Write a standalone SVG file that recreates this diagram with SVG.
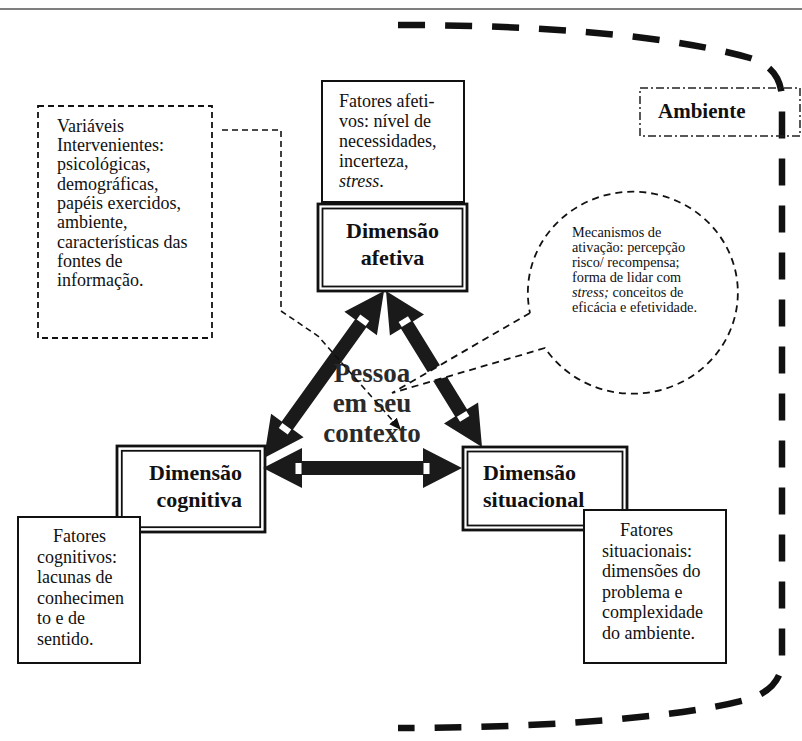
<svg xmlns="http://www.w3.org/2000/svg" width="802" height="741" viewBox="0 0 802 741">
<style>
text{font-family:"Liberation Serif","Times New Roman",serif;fill:#111}
.body{font-size:18px}
.bubble{font-size:14.3px}
.dim{font-size:22px;font-weight:bold}
.box{fill:#fff;stroke:#111;stroke-width:2}
.outer{fill:#fff;stroke:#111;stroke-width:2.8}
.inner{fill:none;stroke:#111;stroke-width:1.8}
.arrow{fill:#1a1a1a}
.notch{fill:#fff}
</style>
<defs>
<marker id="tri" markerUnits="userSpaceOnUse" markerWidth="13" markerHeight="11" refX="12" refY="5" orient="auto">
<path d="M0,0 L12,5 L0,10 z" fill="#111"/>
</marker>
</defs>
<rect width="802" height="741" fill="#fff"/>
<line x1="0" y1="9" x2="802" y2="9" stroke="#555" stroke-width="1.5"/>

<g id="environment-border">
<path d="M398,25 C560,25 680,38 750,58 Q782,68 782,100 L782,660 Q782,685 755,697 C700,715 560,728 398,728" fill="none" stroke="#111" stroke-width="6.5" stroke-dasharray="27 20"/>
</g>

<g id="ambiente">
<rect x="640" y="88" width="160" height="48" fill="none" stroke="#222" stroke-width="1.5" stroke-dasharray="8 3 2 3"/>
<text x="658" y="118" style="font-size:21px;font-weight:bold">Ambiente</text>
</g>

<g id="variaveis">
<rect x="38" y="106" width="174" height="232" fill="#fff" stroke="#111" stroke-width="1.8" stroke-dasharray="6 4"/>
<text class="body" x="57" y="131.7">Variáveis</text>
<text class="body" x="57" y="151">Intervenientes:</text>
<text class="body" x="57" y="170.3">psicológicas,</text>
<text class="body" x="57" y="189.6">demográficas,</text>
<text class="body" x="57" y="208.9">papéis exercidos,</text>
<text class="body" x="57" y="228.2">ambiente,</text>
<text class="body" x="57" y="247.5">características das</text>
<text class="body" x="57" y="266.8">fontes de</text>
<text class="body" x="57" y="286.1">informação.</text>
</g>

<g id="fatores-afetivos">
<rect class="box" x="322" y="81" width="142" height="121"/>
<text class="body" x="339" y="107">Fatores afeti-</text>
<text class="body" x="339" y="127">vos: nível de</text>
<text class="body" x="339" y="147">necessidades,</text>
<text class="body" x="339" y="167">incerteza,</text>
<text class="body" x="339" y="187" font-style="italic">stress<tspan font-style="normal">.</tspan></text>
</g>

<g id="dimensao-afetiva">
<rect class="outer" x="318" y="204" width="149" height="87"/>
<rect class="inner" x="322.5" y="208.5" width="140" height="78"/>
<text class="dim" x="392.5" y="238" text-anchor="middle">Dimensão</text>
<text class="dim" x="392.5" y="265" text-anchor="middle">afetiva</text>
</g>

<g id="dimensao-cognitiva">
<rect class="outer" x="117" y="446" width="148" height="86"/>
<rect class="inner" x="121.8" y="450.8" width="138.4" height="76.4"/>
<text class="dim" x="242" y="480" text-anchor="end">Dimensão</text>
<text class="dim" x="242" y="507" text-anchor="end">cognitiva</text>
</g>

<g id="dimensao-situacional">
<rect class="outer" x="463" y="447" width="164" height="83"/>
<rect class="inner" x="467.5" y="451.5" width="155" height="74"/>
<text class="dim" x="483" y="480">Dimensão</text>
<text class="dim" x="483" y="507">situacional</text>
</g>

<g id="fatores-cognitivos">
<rect class="box" x="18" y="517" width="122" height="146"/>
<text class="body" x="53" y="542">Fatores</text>
<text class="body" x="37" y="562.5">cognitivos:</text>
<text class="body" x="37" y="583">lacunas de</text>
<text class="body" x="37" y="603.5">conhecimen</text>
<text class="body" x="37" y="624">to e de</text>
<text class="body" x="37" y="644.5">sentido.</text>
</g>

<g id="fatores-situacionais">
<rect class="box" x="584" y="510" width="142" height="153"/>
<text class="body" x="620" y="536">Fatores</text>
<text class="body" x="602" y="556.5">situacionais:</text>
<text class="body" x="602" y="577">dimensões do</text>
<text class="body" x="602" y="597.5">problema e</text>
<text class="body" x="602" y="618">complexidade</text>
<text class="body" x="602" y="638.5">do ambiente.</text>
</g>

<g id="connectors">
<g id="arrow-cognitiva-afetiva">
<polygon class="arrow" points="264,458 303.6,437.2 293,429.6 366.3,327.6 376.9,335.2 384,291 344.4,311.8 355,319.4 281.7,421.4 271.1,413.8"/>
<rect class="notch" x="1" y="-5.5" width="6" height="11" transform="translate(360.65,323.49) rotate(-54.3)"/>
<rect class="notch" x="-7" y="-5.5" width="6" height="11" transform="translate(287.35,425.51) rotate(-54.3)"/>
</g>
<g id="arrow-afetiva-situacional">
<polygon class="arrow" points="386,291 389.9,335.6 401,328.7 455.1,416.6 444,423.4 482,447 478.1,402.5 467,409.3 412.9,321.4 424,314.6"/>
<rect class="notch" x="-7" y="-5.5" width="6" height="11" transform="translate(406.96,325.07) rotate(58.39)"/>
<rect class="notch" x="1" y="-5.5" width="6" height="11" transform="translate(461.04,412.93) rotate(58.39)"/>
</g>
<g id="arrow-cognitiva-situacional">
<polygon class="arrow" points="263,468 302,448 302,461 423,461 423,448 462,468 423,488 423,475 302,475 302,488"/>
<rect class="notch" x="295.5" y="463" width="6" height="11"/>
<rect class="notch" x="423.5" y="463" width="6" height="11"/>
</g>
</g>

<g id="mecanismos">
<path d="M530,313 L392,393 L545,348 A105,101 0 1 0 530,313" fill="#fff" stroke="#111" stroke-width="1.8" stroke-dasharray="7 5"/>
<text class="bubble" x="572" y="237">Mecanismos de</text>
<text class="bubble" x="572" y="252">ativação: percepção</text>
<text class="bubble" x="572" y="267">risco/ recompensa;</text>
<text class="bubble" x="572" y="282">forma de lidar com</text>
<text class="bubble" x="572" y="297"><tspan font-style="italic">stress;</tspan> conceitos de</text>
<text class="bubble" x="572" y="312">eficácia e efetividade.</text>
</g>

<g id="pessoa">
<text x="372" y="382" text-anchor="middle" style="font-size:27px;font-weight:bold;fill:#2a2a2a">Pessoa</text>
<text x="372" y="412" text-anchor="middle" style="font-size:27px;font-weight:bold;fill:#2a2a2a">em seu</text>
<text x="372" y="442" text-anchor="middle" style="font-size:27px;font-weight:bold;fill:#2a2a2a">contexto</text>
</g>

<g id="connector-variaveis">
<path d="M222,130 H281 V311 L318,336 L401,430" fill="none" stroke="#111" stroke-width="1.6" stroke-dasharray="6 4" marker-end="url(#tri)"/>
</g>
</svg>
